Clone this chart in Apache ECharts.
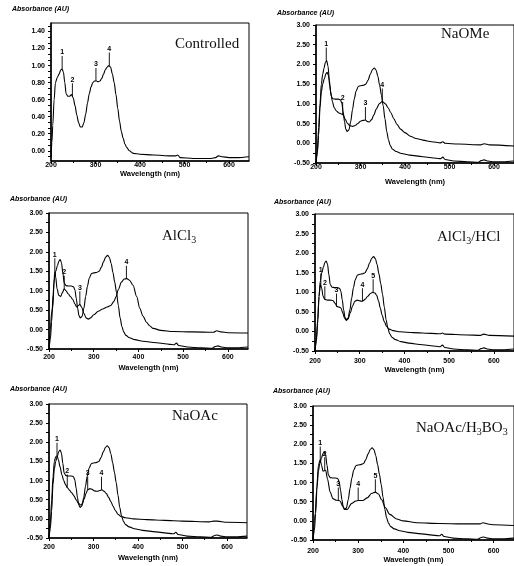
<!DOCTYPE html>
<html><head><meta charset="utf-8">
<script src="https://cdn.jsdelivr.net/npm/echarts@6/dist/echarts.min.js"></script>
<style>html,body{margin:0;padding:0;background:#fff}#c{width:514px;height:566px}</style>
</head><body><div id="c"></div>
<script>
// ---------- data ----------
const panelTitles = ['Controlled', 'NaOMe', '{m|AlCl}{s|3}', '{m|AlCl}{s|3}{m|/HCl}', 'NaOAc', '{m|NaOAc/H}{s|3}{m|BO}{s|3}'];
const xTickLabels = [200, 300, 400, 500, 600];
const ctrlYLabels = [0.00, 0.20, 0.40, 0.60, 0.80, 1.00, 1.20, 1.40];
const wideYLabels = [-0.50, 0.00, 0.50, 1.00, 1.50, 2.00, 2.50, 3.00];

const controlled = [[200,-0.08],[202,0.1],[204,0.3],[207,0.6],[210,0.8],[214,0.86],[218,0.9],[222,0.95],[225,0.96],[228,0.92],[231,0.8],[234,0.67],[238,0.64],[242,0.64],[246,0.66],[250,0.62],[254,0.53],[258,0.42],[262,0.33],[266,0.28],[270,0.28],[274,0.33],[278,0.43],[282,0.56],[286,0.67],[290,0.75],[294,0.8],[298,0.82],[302,0.82],[306,0.81],[310,0.82],[314,0.85],[318,0.9],[322,0.95],[326,0.98],[330,1.0],[334,0.98],[338,0.9],[342,0.8],[346,0.66],[350,0.5],[354,0.35],[358,0.23],[362,0.15],[366,0.08],[370,0.04],[376,0.0],[385,-0.03],[400,-0.04],[430,-0.05],[470,-0.06],[480,-0.06],[485,-0.05],[490,-0.08],[520,-0.09],[560,-0.09],[570,-0.08],[576,-0.06],[584,-0.07],[600,-0.08],[620,-0.08],[645,-0.07]];

const methanol = [[200,-0.5],[203,-0.25],[206,0.2],[209,0.9],[212,1.3],[215,1.5],[219,1.65],[222,1.76],[225,1.8],[228,1.72],[231,1.45],[234,1.2],[238,1.13],[244,1.12],[250,1.12],[255,1.1],[258,1.02],[261,0.8],[264,0.55],[267,0.36],[270,0.3],[274,0.34],[278,0.55],[282,0.85],[286,1.12],[290,1.32],[295,1.44],[300,1.46],[306,1.47],[312,1.5],[317,1.6],[322,1.75],[327,1.87],[331,1.91],[335,1.86],[339,1.7],[343,1.47],[347,1.22],[351,0.95],[355,0.62],[359,0.3],[363,0.08],[367,-0.06],[372,-0.15],[380,-0.21],[392,-0.26],[410,-0.3],[440,-0.34],[470,-0.38],[480,-0.39],[485,-0.35],[490,-0.41],[510,-0.45],[540,-0.47],[565,-0.48],[571,-0.44],[578,-0.42],[586,-0.45],[600,-0.47],[620,-0.47],[645,-0.45]];

const naome = [[200,-0.5],[203,-0.2],[206,0.4],[209,1.0],[212,1.5],[215,1.75],[218,1.9],[221,2.05],[224,2.1],[227,1.95],[230,1.6],[233,1.3],[237,1.05],[241,0.9],[246,0.82],[251,0.77],[256,0.75],[261,0.72],[266,0.6],[271,0.5],[276,0.45],[282,0.43],[288,0.45],[294,0.5],[300,0.56],[306,0.58],[311,0.59],[316,0.55],[320,0.54],[325,0.6],[330,0.72],[336,0.88],[342,1.0],[349,1.06],[356,1.0],[362,0.9],[368,0.78],[375,0.62],[382,0.48],[390,0.36],[400,0.27],[412,0.18],[425,0.12],[440,0.08],[460,0.04],[480,0.01],[485,0.04],[490,0.0],[520,-0.02],[570,-0.04],[578,-0.01],[590,-0.04],[645,-0.07]];

const alcl3 = [[200,-0.5],[203,0.0],[206,0.45],[209,0.6],[211,1.2],[213,1.5],[215,1.35],[218,1.05],[222,0.88],[226,0.85],[230,0.95],[234,1.05],[238,1.0],[243,0.92],[248,0.85],[253,0.78],[258,0.66],[262,0.58],[266,0.62],[269,0.65],[273,0.58],[278,0.42],[283,0.3],[288,0.27],[293,0.3],[300,0.38],[310,0.47],[320,0.53],[330,0.58],[338,0.62],[345,0.72],[350,0.85],[355,1.03],[362,1.22],[368,1.3],[374,1.31],[380,1.27],[388,1.14],[396,0.85],[403,0.55],[410,0.35],[418,0.19],[425,0.1],[433,0.03],[450,-0.02],[478,-0.05],[520,-0.06],[568,-0.07],[575,-0.03],[584,-0.06],[600,-0.08],[645,-0.09]];

const alcl3hcl = [[200,-0.5],[203,-0.2],[206,0.3],[209,0.9],[212,1.2],[215,1.1],[218,0.9],[222,0.82],[228,0.8],[234,0.8],[240,0.79],[245,0.72],[249,0.64],[254,0.62],[258,0.6],[262,0.48],[266,0.34],[270,0.28],[274,0.32],[279,0.48],[284,0.65],[289,0.77],[294,0.8],[300,0.78],[306,0.77],[312,0.82],[318,0.9],[324,0.97],[329,1.0],[334,0.98],[338,0.92],[342,0.78],[346,0.6],[350,0.42],[355,0.25],[360,0.13],[366,0.06],[375,0.02],[390,-0.01],[420,-0.03],[460,-0.05],[480,-0.06],[485,-0.04],[490,-0.07],[540,-0.09],[570,-0.1],[577,-0.07],[590,-0.1],[645,-0.12]];

const naoac = [[200,-0.5],[203,-0.1],[206,0.5],[209,1.1],[212,1.5],[215,1.62],[218,1.65],[221,1.55],[225,1.35],[229,1.15],[233,1.0],[237,0.9],[241,0.82],[246,0.75],[251,0.68],[256,0.6],[261,0.5],[266,0.41],[271,0.36],[275,0.4],[279,0.52],[283,0.66],[287,0.76],[292,0.79],[297,0.77],[302,0.73],[308,0.72],[314,0.74],[319,0.76],[324,0.72],[329,0.66],[334,0.56],[339,0.45],[344,0.33],[349,0.22],[355,0.12],[362,0.06],[372,0.03],[390,0.0],[420,-0.02],[460,-0.04],[500,-0.06],[560,-0.08],[570,-0.06],[578,-0.06],[600,-0.09],[645,-0.1]];

const naoacBoric = [[200,-0.5],[205,0.2],[208,0.8],[212,1.45],[216,1.6],[219,1.45],[222,1.3],[228,1.32],[232,1.1],[238,0.75],[244,0.58],[252,0.54],[260,0.52],[265,0.4],[270,0.3],[276,0.3],[285,0.45],[295,0.52],[300,0.53],[310,0.53],[320,0.6],[330,0.72],[338,0.75],[345,0.7],[352,0.55],[360,0.35],[370,0.17],[385,0.05],[400,0.0],[430,-0.05],[480,-0.07],[530,-0.08],[570,-0.08],[576,-0.05],[590,-0.09],[600,-0.1],[645,-0.12]];

const ctrlPeaks = [[225,0.96,'1'],[248,0.64,'2'],[301,0.82,'3'],[331,1.0,'4']];
const naomePeaks = [[223,2.1,'1'],[260,0.72,'2'],[311,0.59,'3'],[349,1.06,'4']];
const alcl3Peaks = [[213,1.5,'1'],[234,1.05,'2'],[269,0.65,'3'],[373,1.31,'4']];
const alcl3hclPeaks = [[213,1.15,'1'],[222,0.82,'2'],[248,0.64,'3'],[306,0.77,'4'],[330,1.0,'5']];
const naoacPeaks = [[218,1.65,'1'],[241,0.82,'2'],[287,0.76,'3'],[318,0.76,'4']];
const naoacBoricPeaks = [[216,1.6,'1'],[226,1.32,'2'],[256,0.53,'3'],[300,0.53,'4'],[338,0.75,'5']];

// ---------- layout ----------
const grids = [
  {left:51, top:23, width:198, height:138},
  {left:316, top:25, width:198, height:138},
  {left:49, top:213, width:199, height:136},
  {left:315, top:214, width:199, height:137},
  {left:49, top:404, width:198, height:134},
  {left:313, top:406, width:201, height:134}
];
const xLabelMargin = [1, 1, 5, 7, 6, 8];
const xNameGap = [7, 15, 15, 15, 16, 15];
const titlePos = [[175,37],[441,27],[162,228],[437,229],[172,409],[416,420]];
const yNamePos = [[12,6],[277,10],[10,196],[274,199],[10,386],[273,388]];

const panels = [
  {series:[controlled], peaks:[ctrlPeaks], peakOn:0},
  {series:[methanol, naome], peaks:[naomePeaks]},
  {series:[methanol, alcl3], peaks:[alcl3Peaks]},
  {series:[methanol, alcl3hcl], peaks:[alcl3hclPeaks]},
  {series:[methanol, naoac], peaks:[naoacPeaks]},
  {series:[methanol, naoacBoric], peaks:[naoacBoricPeaks]}
];

const F = 'Liberation Sans, Arial, sans-serif';
const SERIF = 'Liberation Serif, Times New Roman, serif';

const option = {animation:false, backgroundColor:'#fff', grid:[], xAxis:[], yAxis:[], series:[], title:[]};

grids.forEach((g, i) => {
  option.grid.push(Object.assign({show:true, borderColor:'#000', borderWidth:1, containLabel:false}, g));
  option.xAxis.push({
    type:'value', gridIndex:i, min:200, max:645, interval:100,
    axisLine:{show:true, onZero:false, lineStyle:{color:'#000', width:1.5}},
    axisTick:{show:true, length:3, lineStyle:{color:'#000'}, customValues:xTickLabels},
    minorTick:{show:true, splitNumber:2, length:2, lineStyle:{color:'#000'}},
    splitLine:{show:false},
    axisLabel:{customValues:xTickLabels, fontSize:7, fontWeight:'bold', color:'#000', fontFamily:F, margin:xLabelMargin[i]},
    name:'Wavelength (nm)', nameLocation:'middle', nameGap:xNameGap[i],
    nameTextStyle:{fontSize:7.5, fontWeight:'bold', color:'#000', fontFamily:F}
  });
  const isCtrl = i === 0;
  const yTicks = [];
  if (isCtrl) { for (let k = -1; k <= 22; k++) yTicks.push(+(k * 0.2 / 3).toFixed(4)); }
  option.yAxis.push(isCtrl ? {
    type:'value', gridIndex:i, min:-0.12, max:1.5,
    axisLine:{show:true, onZero:false, lineStyle:{color:'#000', width:1.5}},
    axisTick:{show:true, length:3, lineStyle:{color:'#000'}, customValues:yTicks.filter(v => v > -0.12 && v < 1.5)},
    splitLine:{show:false},
    axisLabel:{customValues:ctrlYLabels, formatter:v => v.toFixed(2), fontSize:7, fontWeight:'bold', color:'#000', fontFamily:F, margin:6}
  } : {
    type:'value', gridIndex:i, min:-0.5, max:3, interval:0.5,
    axisLine:{show:true, onZero:false, lineStyle:{color:'#000', width:1.5}},
    axisTick:{show:true, length:3, lineStyle:{color:'#000'}},
    minorTick:{show:true, splitNumber:2, length:3, lineStyle:{color:'#000'}},
    splitLine:{show:false},
    axisLabel:{customValues:wideYLabels, formatter:v => v.toFixed(2), fontSize:7, fontWeight:'bold', color:'#000', fontFamily:F, margin:6}
  });
  option.title.push({
    text:panelTitles[i], left:titlePos[i][0], top:titlePos[i][1], padding:0,
    textStyle:{fontFamily:SERIF, fontSize:15, fontWeight:'normal', color:'#111',
      rich:{m:{fontFamily:SERIF, fontSize:15, color:'#111'}, s:{fontFamily:SERIF, fontSize:10, color:'#111', padding:[7,0,0,0]}}}
  });
  option.title.push({
    text:'Absorbance (AU)', left:yNamePos[i][0], top:yNamePos[i][1], padding:0,
    textStyle:{fontFamily:F, fontSize:7, fontWeight:'bold', fontStyle:'italic', color:'#000'}
  });
  const p = panels[i];
  p.series.forEach((d, si) => {
    const isLast = si === p.series.length - 1;
    const s = {
      type:'line', xAxisIndex:i, yAxisIndex:i, data:d, showSymbol:false, symbol:'none',
      smooth:0.3, smoothMonotone:'x', silent:true,
      lineStyle:{color:'#000', width:1.1}
    };
    if (isLast) {
      s.markPoint = {
        symbol:'rect', symbolSize:[0.9, 13], symbolOffset:[0, -6.5], silent:true,
        itemStyle:{color:'#000'},
        label:{show:true, position:'top', distance:0, formatter:'{b}', fontSize:7, fontWeight:'bold', color:'#000', fontFamily:F},
        data:p.peaks[0].map(q => ({coord:[q[0], q[1]], name:q[2]}))
      };
    }
    option.series.push(s);
  });
});

const chart = echarts.init(document.getElementById('c'), null, {renderer:'canvas'});
chart.setOption(option);
</script>
</body></html>
